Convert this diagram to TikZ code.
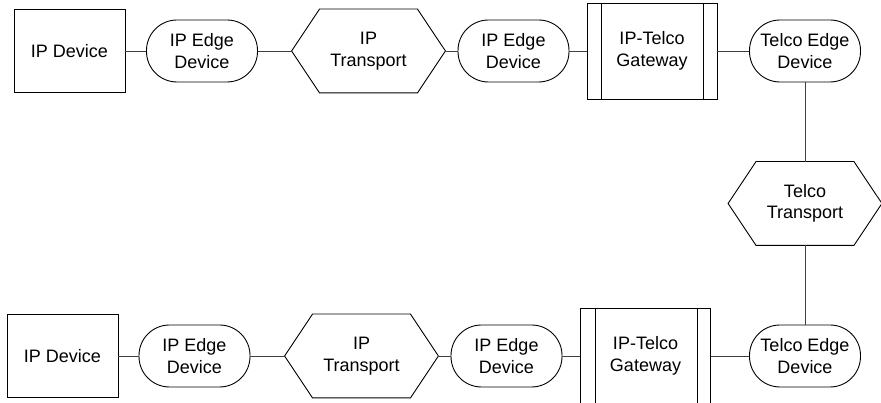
\documentclass[tikz,border=0pt]{standalone}
\usepackage{fontspec}
\setmainfont{Liberation Sans}

\begin{document}
\begin{tikzpicture}[x=1pt,y=1pt,line width=0.9pt,
        every node/.style={font=\fontsize{18}{21.5}\selectfont, align=center, inner sep=2pt},
        devbox/.style={draw, rectangle, minimum width=111pt, minimum height=83pt},
        edgebox/.style={draw, rectangle, rounded corners=30.5pt, minimum width=111pt, minimum height=62pt},
        transbox/.style={rectangle, minimum width=153pt, minimum height=83pt},
        gatebox/.style={draw, rectangle, minimum width=130pt, minimum height=96pt},
        link/.style={black!75}]
            \useasboundingbox (0,0) rectangle (881,403);

            % top row
            \node[devbox] at (69.5,352) (dev1) {IP Device};
            \node[edgebox] at (202,352) (edge1) {IP Edge\\Device};
            \node[transbox] at (368.5,352) (ipt1) {IP\\Transport};
            \node[edgebox] at (513.5,352) (edge2) {IP Edge\\Device};
            \node[gatebox] at (652,352) (gw1) {IP-Telco\\Gateway};
            \node[edgebox] at (805,352) (tedge1) {Telco Edge\\Device};

            \node[transbox] at (805,199.5) (tt) {Telco\\Transport};

            % bottom row
            \node[devbox] at (62.5,47) (dev2) {IP Device};
            \node[edgebox] at (194.5,47) (edge3) {IP Edge\\Device};
            \node[transbox] at (361.5,47) (ipt2) {IP\\Transport};
            \node[edgebox] at (506.5,47) (edge4) {IP Edge\\Device};
            \node[gatebox] at (645.5,47) (gw2) {IP-Telco\\Gateway};
            \node[edgebox] at (805,47) (tedge2) {Telco Edge\\Device};

            % hexagon outlines
            \foreach \t in {ipt1,ipt2,tt} {
                \draw (\t.west) -- ([xshift=28pt]\t.north west) -- ([xshift=-28pt]\t.north east)
                    -- (\t.east) -- ([xshift=-28pt]\t.south east) -- ([xshift=28pt]\t.south west) -- cycle;
            }
            % gateway side bars
            \foreach \g in {gw1,gw2} {
                \draw ([xshift=15pt]\g.north west) -- ([xshift=15pt]\g.south west);
                \draw ([xshift=-14pt]\g.north east) -- ([xshift=-14pt]\g.south east);
            }

            \draw[link] (dev1) -- (edge1);
            \draw[link] (edge1) -- (ipt1);
            \draw[link] (ipt1) -- (edge2);
            \draw[link] (edge2) -- (gw1);
            \draw[link] (gw1) -- (tedge1);
            \draw[link] (tedge1) -- (tt);
            \draw[link] (tt) -- (tedge2);
            \draw[link] (tedge2) -- (gw2);
            \draw[link] (gw2) -- (edge4);
            \draw[link] (edge4) -- (ipt2);
            \draw[link] (ipt2) -- (edge3);
            \draw[link] (edge3) -- (dev2);
        \end{tikzpicture}
\end{document}
